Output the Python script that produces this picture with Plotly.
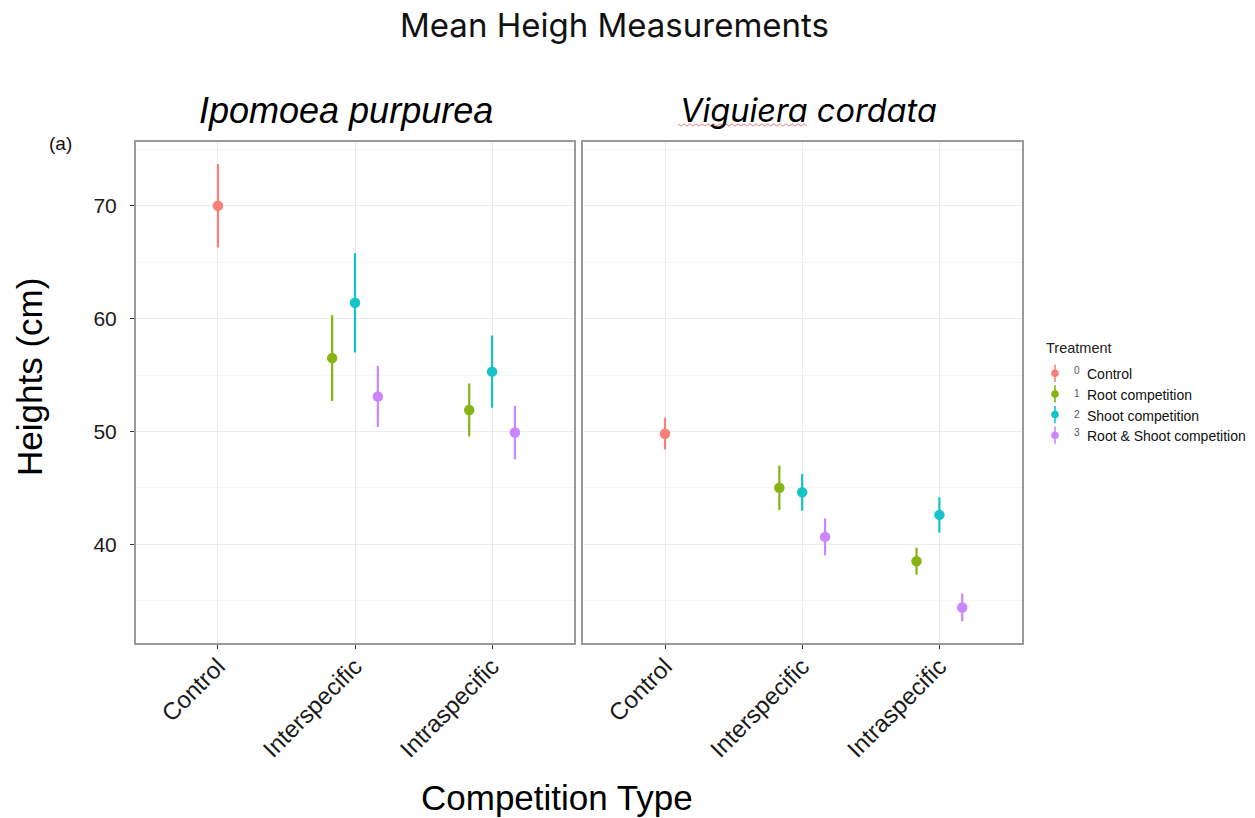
import plotly.graph_objects as go

# ---- data -------------------------------------------------------------
competition_types = ["Control", "Interspecific", "Intraspecific"]
species = ["Ipomoea purpurea", "Viguiera cordata"]
treatments = ["Control", "Root competition", "Shoot competition", "Root & Shoot competition"]
treatment_codes = ["0", "1", "2", "3"]
colors = ["#F8766D", "#7CAE00", "#00BFC4", "#C77CFF"]

# (competition type, treatment) -> mean height / standard error
ipomoea_groups = [("Control", "Control"),
                  ("Interspecific", "Root competition"),
                  ("Interspecific", "Shoot competition"),
                  ("Interspecific", "Root & Shoot competition"),
                  ("Intraspecific", "Root competition"),
                  ("Intraspecific", "Shoot competition"),
                  ("Intraspecific", "Root & Shoot competition")]
ipomoea_mean = [70.0, 56.5, 61.4, 53.1, 51.9, 55.3, 49.9]
ipomoea_se = [3.7, 3.8, 4.4, 2.7, 2.35, 3.2, 2.37]

viguiera_groups = list(ipomoea_groups)
viguiera_mean = [49.8, 45.0, 44.6, 40.65, 38.5, 42.6, 34.4]
viguiera_se = [1.4, 1.97, 1.64, 1.64, 1.2, 1.57, 1.23]

W, H = 1255, 818
DODGE = 0.5


def px_x(p):
    return p / W


def px_y(p):
    return 1 - p / H


def dodge_positions(groups):
    """Category index plus a dodge offset among treatments sharing a category."""
    out = []
    for cat, trt in groups:
        members = [t for c, t in groups if c == cat]
        n = len(members)
        i = members.index(trt)
        off = (i - (n - 1) / 2) * DODGE / n
        out.append(competition_types.index(cat) + 1 + off)
    return out


fig = go.Figure()

panels = [(ipomoea_groups, ipomoea_mean, ipomoea_se, "x", "y"),
          (viguiera_groups, viguiera_mean, viguiera_se, "x2", "y2")]

for groups, means, ses, xa, ya in panels:
    xs = dodge_positions(groups)
    for k, trt in enumerate(treatments):
        idx = [i for i, (c, t) in enumerate(groups) if t == trt]
        if not idx:
            continue
        fig.add_trace(go.Scatter(
            x=[xs[i] for i in idx],
            y=[means[i] for i in idx],
            error_y=dict(type="data", array=[ses[i] for i in idx], symmetric=True,
                         width=0, thickness=2.2, color=colors[k]),
            mode="markers",
            marker=dict(size=10.5, color=colors[k]),
            opacity=0.92,
            xaxis=xa, yaxis=ya, showlegend=False, hoverinfo="skip"))

# legend keys drawn as small point-ranges in their own axes
for k in range(len(treatments)):
    fig.add_trace(go.Scatter(
        x=[0], y=[k],
        error_y=dict(type="data", array=[0.42], width=0, thickness=1.6, color=colors[k]),
        mode="markers", marker=dict(size=7.5, color=colors[k]), opacity=0.92,
        xaxis="x3", yaxis="y3", showlegend=False, hoverinfo="skip"))

grid_major = "#ebebeb"
grid_minor = "#f6f6f6"
frame = "#9a9a9a"
y_tick_font = dict(family="Liberation Sans, Arial, sans-serif", size=21, color="#1a1a1a")
x_tick_font = dict(family="Liberation Sans, Arial, sans-serif", size=24, color="#1a1a1a")

x_common = dict(
    range=[0.4, 3.6], tickmode="array", tickvals=[1, 2, 3], ticktext=competition_types,
    tickangle=-45, ticks="outside", ticklen=4, tickcolor="#333333", tickwidth=1,
    ticklabelstandoff=-6,
    showgrid=True, gridcolor=grid_major, gridwidth=1.2, zeroline=False,
    showline=True, linecolor=frame, linewidth=1.5, mirror=True,
    tickfont=x_tick_font, fixedrange=True)
y_common = dict(
    range=[31.22, 75.68], tickmode="array", tickvals=[40, 50, 60, 70],
    showgrid=True, gridcolor=grid_major, gridwidth=1.2, zeroline=False,
    minor=dict(tickmode="array", tickvals=[35, 45, 55, 65, 75], showgrid=True,
               gridcolor=grid_minor, gridwidth=1, ticks=""),
    showline=True, linecolor=frame, linewidth=1.5, mirror=True, fixedrange=True)

y_dom = [px_y(643.3), px_y(141.7)]

fig.update_layout(
    width=W, height=H,
    margin=dict(l=0, r=0, t=0, b=0),
    paper_bgcolor="white", plot_bgcolor="white",
    showlegend=False,
    xaxis=dict(x_common, domain=[px_x(135.7), px_x(574.3)], anchor="y"),
    xaxis2=dict(x_common, domain=[px_x(582.7), px_x(1021.7)], anchor="y2"),
    yaxis=dict(y_common, domain=y_dom, anchor="x", ticks="outside", ticklen=4,
               tickcolor="#333333", tickfont=y_tick_font, ticklabelstandoff=9),
    yaxis2=dict(y_common, domain=y_dom, anchor="x2", showticklabels=False, ticks=""),
    xaxis3=dict(domain=[px_x(1045), px_x(1065)], range=[-1, 1], visible=False,
                anchor="y3", fixedrange=True),
    yaxis3=dict(domain=[px_y(445.5), px_y(363)], range=[3.5, -0.5], visible=False,
                anchor="x3", fixedrange=True),
)

ann = []
# main title
ann.append(dict(text="Mean Heigh Measurements", x=px_x(614), y=px_y(25),
                font=dict(family="Inter, Noto Sans, sans-serif", size=33, color="#111111")))
# facet strips
ann.append(dict(text="<i>Ipomoea purpurea</i>", x=px_x(346), y=px_y(110),
                font=dict(family="Liberation Sans, Arial, sans-serif", size=36, color="#000000")))
ann.append(dict(text="<i>Viguiera cordata</i>", x=px_x(808), y=px_y(110),
                font=dict(family="Inter, Noto Sans, sans-serif", size=32.5, color="#000000")))
# panel tag
ann.append(dict(text="(a)", x=px_x(60), y=px_y(143),
                font=dict(family="Liberation Sans, Arial, sans-serif", size=19, color="#111111")))
# axis titles
ann.append(dict(text="Competition Type", x=px_x(557), y=px_y(797),
                font=dict(family="Liberation Sans, Arial, sans-serif", size=35, color="#000000")))
ann.append(dict(text="Heights (cm)", x=px_x(29), y=px_y(377), textangle=-90,
                font=dict(family="Liberation Sans, Arial, sans-serif", size=35, color="#000000")))
# legend title and labels
ann.append(dict(text="Treatment", x=px_x(1044), y=px_y(348), xanchor="left",
                font=dict(family="Liberation Sans, Arial, sans-serif", size=14.5, color="#222222")))
legend_rows = [373.3, 393.9, 414.5, 435.1]
for code, label, yy in zip(treatment_codes, treatments, legend_rows):
    raise_px = 3 if code in ("0", "3") else 0
    ann.append(dict(text=code, x=px_x(1077), y=px_y(yy - raise_px), xanchor="center",
                    font=dict(family="Liberation Sans, Arial, sans-serif", size=10, color="#555555")))
    ann.append(dict(text=label, x=px_x(1085), y=px_y(yy + 1), xanchor="left",
                    font=dict(family="Liberation Sans, Arial, sans-serif", size=14, color="#111111")))

for a in ann:
    a.setdefault("xanchor", "center")
    a.setdefault("yanchor", "middle")
    a.update(xref="paper", yref="paper", showarrow=False)
fig.update_layout(annotations=ann)

# spell-check squiggle under the genus name
sq_x0, sq_x1, sq_y = 678, 807, 125
pts = []
step = 3
xx = sq_x0
up = True
while xx <= sq_x1:
    pts.append((xx, sq_y - 1.2 if up else sq_y + 1.2))
    up = not up
    xx += step
path = "M " + " L ".join(f"{px_x(a):.5f},{px_y(b):.5f}" for a, b in pts)
fig.add_shape(type="path", path=path, xref="paper", yref="paper",
              line=dict(color="#e06060", width=0.8))

fig.write_html("out.html")
